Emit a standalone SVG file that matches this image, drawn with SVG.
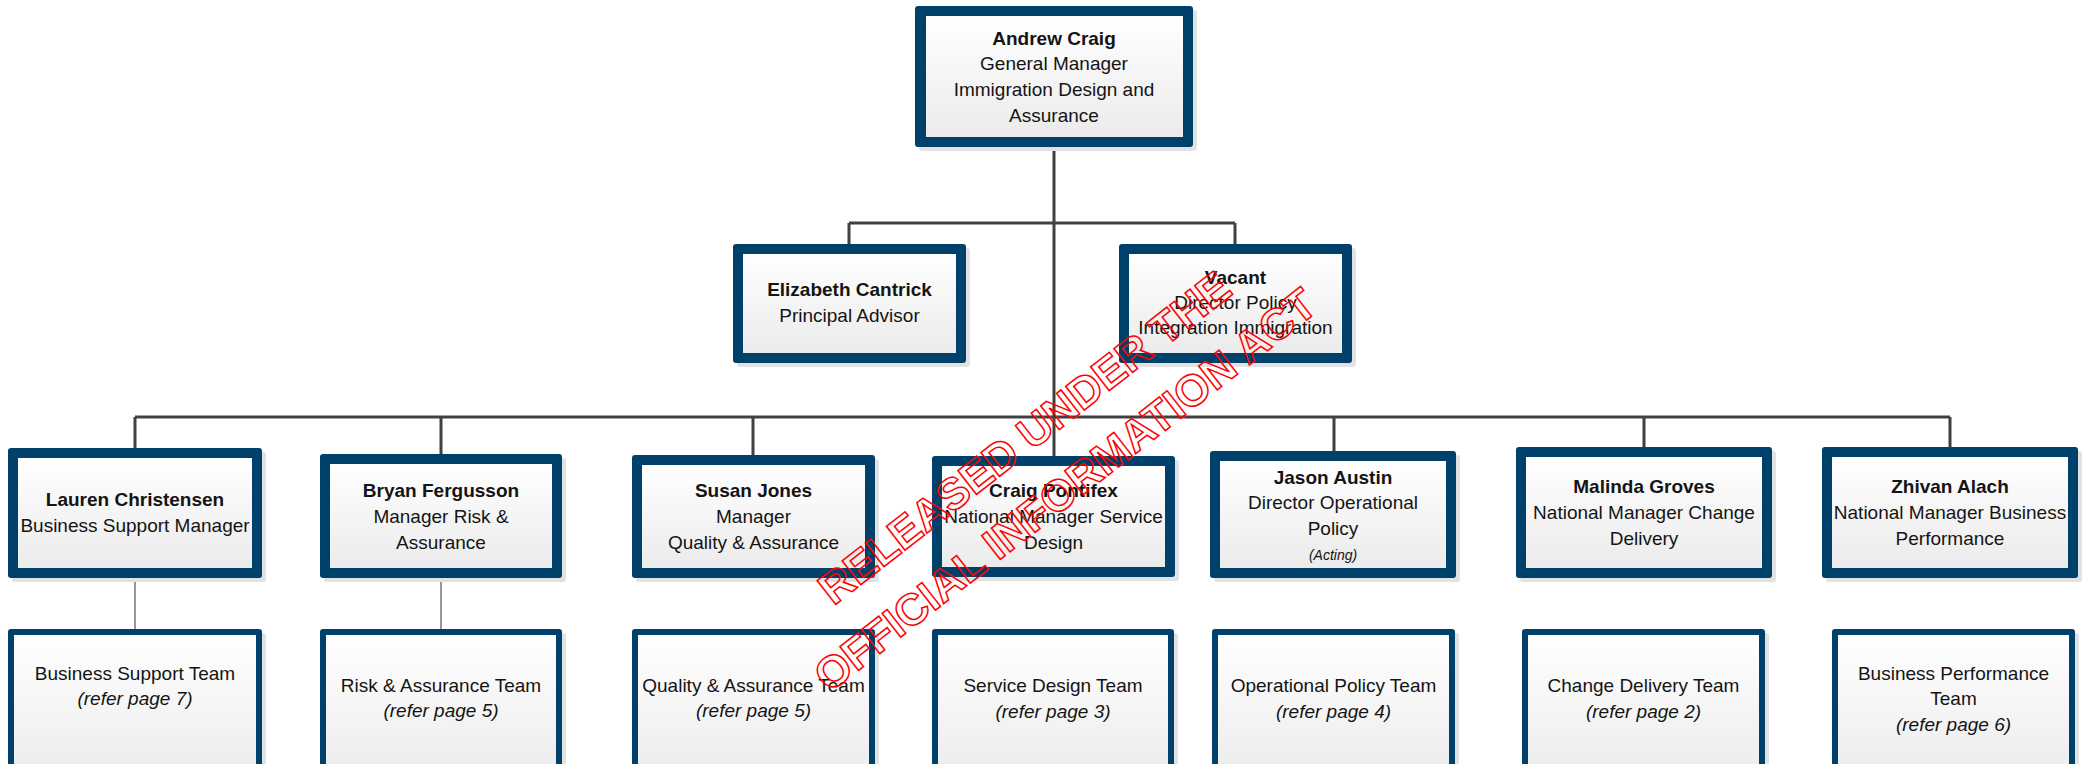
<svg xmlns="http://www.w3.org/2000/svg" width="2091" height="764" viewBox="0 0 2091 764">
<defs>
<linearGradient id="fillg" x1="0" y1="0" x2="0" y2="1">
<stop offset="0" stop-color="#ffffff"/>
<stop offset="1" stop-color="#ebebeb"/>
</linearGradient>
<style>
.sh{fill:#e2e2e2}
.ob{fill:#00416b}
.in{fill:url(#fillg)}
text{font-family:"Liberation Sans",Arial,sans-serif;font-size:19px;fill:#141414;text-anchor:middle}
.b{font-weight:bold}
.i{font-style:italic}
.sm{font-size:14px}
.con{fill:none;stroke:#404040;stroke-width:3}
.thin{fill:none;stroke:#555555;stroke-width:1.2}
.wm{font-family:"Liberation Sans",Arial,sans-serif;font-size:44px;font-weight:bold;fill:none;stroke:#ff0000;stroke-width:1.5;text-anchor:middle}
</style>
</defs>
<rect width="2091" height="764" fill="#ffffff"/>

<g id="connectors">
<path class="con" d="M1054,147 V456"/>
<path class="con" d="M849,223 H1235 M849,223 V244 M1235,223 V244"/>
<path class="con" d="M135,417 H1950 M135,417 V448 M441,417 V454 M753,417 V455 M1334,417 V451 M1644,417 V447 M1950,417 V447"/>
<path class="thin" d="M135,578 V629 M441,578 V629"/>
</g>

<g id="andrew-craig">
<rect class="sh" x="919" y="10" width="278" height="141" rx="3"/>
<rect class="ob" x="915" y="6" width="278" height="141" rx="3"/>
<rect class="in" x="926" y="16" width="257" height="121"/>
<text x="1054" y="45" class="b">Andrew Craig</text>
<text x="1054" y="70">General Manager</text>
<text x="1054" y="96">Immigration Design and</text>
<text x="1054" y="122">Assurance</text>
</g>

<g id="elizabeth-cantrick">
<rect class="sh" x="737" y="248" width="233" height="119" rx="3"/>
<rect class="ob" x="733" y="244" width="233" height="119" rx="3"/>
<rect class="in" x="743" y="254" width="213" height="99"/>
<text x="849.5" y="296" class="b">Elizabeth Cantrick</text>
<text x="849.5" y="322">Principal Advisor</text>
</g>

<g id="vacant">
<rect class="sh" x="1123" y="248" width="233" height="119" rx="3"/>
<rect class="ob" x="1119" y="244" width="233" height="119" rx="3"/>
<rect class="in" x="1129" y="254" width="213" height="99"/>
<text x="1235.5" y="284" class="b">Vacant</text>
<text x="1235.5" y="309">Director Policy</text>
<text x="1235.5" y="334">Integration Immigration</text>
</g>

<g id="lauren-christensen">
<rect class="sh" x="12" y="452" width="254" height="130" rx="3"/>
<rect class="ob" x="8" y="448" width="254" height="130" rx="3"/>
<rect class="in" x="18" y="458" width="234" height="110"/>
<text x="135" y="506" class="b">Lauren Christensen</text>
<text x="135" y="532">Business Support Manager</text>
</g>

<g id="bryan-fergusson">
<rect class="sh" x="324" y="458" width="242" height="124" rx="3"/>
<rect class="ob" x="320" y="454" width="242" height="124" rx="3"/>
<rect class="in" x="330" y="464" width="222" height="104"/>
<text x="441" y="497" class="b">Bryan Fergusson</text>
<text x="441" y="523">Manager Risk &amp;</text>
<text x="441" y="549">Assurance</text>
</g>

<g id="susan-jones">
<rect class="sh" x="636" y="459" width="243" height="123" rx="3"/>
<rect class="ob" x="632" y="455" width="243" height="123" rx="3"/>
<rect class="in" x="642" y="465" width="223" height="103"/>
<text x="753.5" y="497" class="b">Susan Jones</text>
<text x="753.5" y="523">Manager</text>
<text x="753.5" y="549">Quality &amp; Assurance</text>
</g>

<g id="craig-pontifex">
<rect class="sh" x="936" y="460" width="243" height="121" rx="3"/>
<rect class="ob" x="932" y="456" width="243" height="121" rx="3"/>
<rect class="in" x="942" y="466" width="223" height="101"/>
<text x="1053.5" y="497" class="b">Craig Pontifex</text>
<text x="1053.5" y="523">National Manager Service</text>
<text x="1053.5" y="549">Design</text>
</g>

<g id="jason-austin">
<rect class="sh" x="1214" y="455" width="246" height="127" rx="3"/>
<rect class="ob" x="1210" y="451" width="246" height="127" rx="3"/>
<rect class="in" x="1220" y="461" width="226" height="107"/>
<text x="1333" y="484" class="b">Jason Austin</text>
<text x="1333" y="509">Director Operational</text>
<text x="1333" y="535">Policy</text>
<text x="1333" y="560" class="i sm">(Acting)</text>
</g>

<g id="malinda-groves">
<rect class="sh" x="1520" y="451" width="256" height="131" rx="3"/>
<rect class="ob" x="1516" y="447" width="256" height="131" rx="3"/>
<rect class="in" x="1526" y="457" width="236" height="111"/>
<text x="1644" y="493" class="b">Malinda Groves</text>
<text x="1644" y="519">National Manager Change</text>
<text x="1644" y="545">Delivery</text>
</g>

<g id="zhivan-alach">
<rect class="sh" x="1826" y="451" width="256" height="131" rx="3"/>
<rect class="ob" x="1822" y="447" width="256" height="131" rx="3"/>
<rect class="in" x="1832" y="457" width="236" height="111"/>
<text x="1950" y="493" class="b">Zhivan Alach</text>
<text x="1950" y="519">National Manager Business</text>
<text x="1950" y="545">Performance</text>
</g>

<g id="business-support-team">
<rect class="sh" x="12" y="633" width="254" height="160" rx="3"/>
<rect class="ob" x="8" y="629" width="254" height="160" rx="3"/>
<rect class="in" x="14" y="635" width="242" height="148"/>
<text x="135" y="680">Business Support Team</text>
<text x="135" y="705" class="i">(refer page 7)</text>
</g>

<g id="risk-assurance-team">
<rect class="sh" x="324" y="633" width="242" height="160" rx="3"/>
<rect class="ob" x="320" y="629" width="242" height="160" rx="3"/>
<rect class="in" x="326" y="635" width="230" height="148"/>
<text x="441" y="692">Risk &amp; Assurance Team</text>
<text x="441" y="717" class="i">(refer page 5)</text>
</g>

<g id="quality-assurance-team">
<rect class="sh" x="636" y="633" width="243" height="160" rx="3"/>
<rect class="ob" x="632" y="629" width="243" height="160" rx="3"/>
<rect class="in" x="638" y="635" width="231" height="148"/>
<text x="753.5" y="692">Quality &amp; Assurance Team</text>
<text x="753.5" y="717" class="i">(refer page 5)</text>
</g>

<g id="service-design-team">
<rect class="sh" x="936" y="633" width="242" height="160" rx="3"/>
<rect class="ob" x="932" y="629" width="242" height="160" rx="3"/>
<rect class="in" x="938" y="635" width="230" height="148"/>
<text x="1053" y="692">Service Design Team</text>
<text x="1053" y="718" class="i">(refer page 3)</text>
</g>

<g id="operational-policy-team">
<rect class="sh" x="1216" y="633" width="243" height="160" rx="3"/>
<rect class="ob" x="1212" y="629" width="243" height="160" rx="3"/>
<rect class="in" x="1218" y="635" width="231" height="148"/>
<text x="1333.5" y="692">Operational Policy Team</text>
<text x="1333.5" y="718" class="i">(refer page 4)</text>
</g>

<g id="change-delivery-team">
<rect class="sh" x="1526" y="633" width="243" height="160" rx="3"/>
<rect class="ob" x="1522" y="629" width="243" height="160" rx="3"/>
<rect class="in" x="1528" y="635" width="231" height="148"/>
<text x="1643.5" y="692">Change Delivery Team</text>
<text x="1643.5" y="718" class="i">(refer page 2)</text>
</g>

<g id="business-performance-team">
<rect class="sh" x="1836" y="633" width="243" height="160" rx="3"/>
<rect class="ob" x="1832" y="629" width="243" height="160" rx="3"/>
<rect class="in" x="1838" y="635" width="231" height="148"/>
<text x="1953.5" y="680">Business Performance</text>
<text x="1953.5" y="705">Team</text>
<text x="1953.5" y="731" class="i">(refer page 6)</text>
</g>

<g id="watermark" transform="translate(1024,437) rotate(-38)">
<text class="wm" x="0" y="16">RELEASED UNDER THE</text>
<text class="wm" x="0" y="82">OFFICIAL INFORMATION ACT</text>
</g>
</svg>
